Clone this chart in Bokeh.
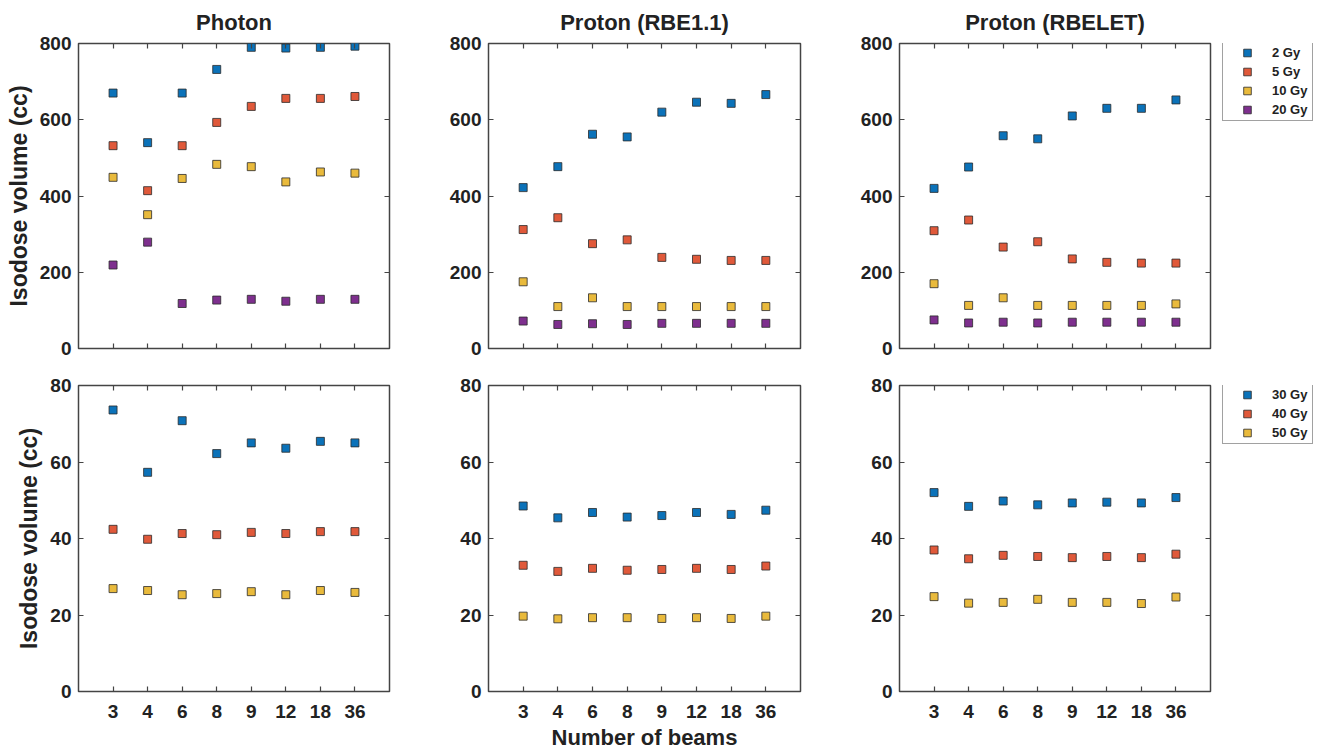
from bokeh.plotting import figure
from bokeh.models import Range1d, FixedTicker, LinearAxis, Legend, LegendItem
from bokeh.layouts import column, row
from bokeh.embed import file_html
from bokeh.resources import INLINE

beams = ["3", "4", "6", "8", "9", "12", "18", "36"]

photon_2 = [670, 540, 670, 732, 790, 788, 790, 793]
photon_5 = [532, 414, 532, 593, 635, 656, 656, 661]
photon_10 = [449, 351, 446, 483, 477, 437, 463, 460]
photon_20 = [219, 279, 118, 127, 129, 124, 129, 129]

rbe_2 = [422, 477, 562, 555, 620, 646, 643, 666]
rbe_5 = [312, 343, 275, 285, 239, 234, 231, 231]
rbe_10 = [175, 110, 133, 110, 110, 110, 110, 110]
rbe_20 = [72, 63, 65, 63, 66, 66, 66, 66]

let_2 = [420, 476, 558, 550, 610, 630, 630, 652]
let_5 = [309, 337, 266, 280, 235, 226, 224, 224]
let_10 = [170, 113, 133, 113, 113, 113, 113, 117]
let_20 = [75, 67, 69, 67, 69, 69, 69, 69]

photon_30 = [73.6, 57.3, 70.8, 62.2, 65.0, 63.6, 65.4, 65.0]
photon_40 = [42.4, 39.8, 41.3, 41.0, 41.6, 41.3, 41.8, 41.8]
photon_50 = [26.9, 26.4, 25.3, 25.6, 26.1, 25.3, 26.4, 25.9]

rbe_30 = [48.5, 45.4, 46.8, 45.6, 46.0, 46.8, 46.3, 47.4]
rbe_40 = [33.0, 31.4, 32.2, 31.7, 31.9, 32.2, 31.9, 32.8]
rbe_50 = [19.7, 19.0, 19.3, 19.3, 19.1, 19.3, 19.1, 19.7]

let_30 = [52.0, 48.4, 49.8, 48.8, 49.3, 49.5, 49.3, 50.7]
let_40 = [37.0, 34.7, 35.6, 35.3, 35.0, 35.3, 35.0, 35.9]
let_50 = [24.8, 23.1, 23.3, 24.1, 23.3, 23.3, 23.0, 24.7]

top_labels = ["2 Gy", "5 Gy", "10 Gy", "20 Gy"]
bottom_labels = ["30 Gy", "40 Gy", "50 Gy"]
titles = ["Photon", "Proton (RBE1.1)", "Proton (RBELET)"]
top_yticks = [0, 200, 400, 600, 800]
bottom_yticks = [0, 20, 40, 60, 80]

colors = ["#0B72B9", "#E0593A", "#E9BA3C", "#7E2F8E"]
FONT = "Liberation Sans"
DARK = "#444444"
EDGE = "#2a2a2a"

xs = [i + 1 for i in range(len(beams))]


def style_axis(ax, ticks, labels=None, size="19px", standoff=7):
    ax.ticker = FixedTicker(ticks=ticks)
    ax.minor_tick_line_color = None
    ax.major_tick_in = 5
    ax.major_tick_out = 0
    ax.major_tick_line_color = DARK
    ax.major_tick_line_width = 1.2
    ax.axis_line_color = None
    ax.major_label_standoff = standoff
    ax.major_label_text_font = FONT
    ax.major_label_text_font_style = "bold"
    ax.major_label_text_font_size = size
    ax.major_label_text_color = "#222222"
    ax.axis_label_text_font = FONT
    ax.axis_label_text_font_style = "bold"
    ax.axis_label_text_color = "#222222"
    if labels is not None:
        ax.major_label_overrides = {t: l for t, l in zip(ticks, labels)}


def make_fig(width, left, right, top, bottom, height, ymax, yticks, series,
             title=None, xlabels=False, xlabel=None, ylabel=None):
    p = figure(width=width, height=height, x_range=Range1d(0, 9), y_range=Range1d(0, ymax),
               output_backend="svg", toolbar_location=None,
               min_border_left=left, min_border_right=right,
               min_border_top=top, min_border_bottom=bottom)
    p.grid.visible = False
    p.outline_line_color = DARK
    p.outline_line_width = 1.5
    p.background_fill_color = "white"
    p.border_fill_color = "white"

    xa = p.xaxis[0]
    style_axis(xa, xs, beams if xlabels else [""] * len(xs), standoff=13)
    if xlabel:
        xa.axis_label = xlabel
        xa.axis_label_text_font_size = "22px"
        xa.axis_label_standoff = 4
    ya = p.yaxis[0]
    style_axis(ya, yticks, [str(v) for v in yticks], standoff=7)
    if ylabel:
        ya.axis_label = ylabel
        ya.axis_label_text_font_size = "23px"
        ya.axis_label_standoff = 5

    above = LinearAxis()
    style_axis(above, xs, [""] * len(xs), size="8px", standoff=0)
    if title:
        above.axis_label = title
        above.axis_label_text_font_size = "22px"
        above.axis_label_standoff = 9
    p.add_layout(above, "above")
    rax = LinearAxis()
    style_axis(rax, yticks, [""] * len(yticks), size="8px", standoff=0)
    p.add_layout(rax, "right")

    for vals, c in zip(series, colors):
        p.scatter(x=xs, y=vals, marker="square", size=8, fill_color=c,
                  line_color=EDGE, line_width=0.8)
    return p


def make_legend_fig(width, height, top, bottom, labels, series, loc):
    # the legend's renderers hold the panel's data but lie outside this
    # narrow strip's visible x range, so only the legend itself shows
    p = figure(width=width, height=height, x_range=Range1d(100, 101), y_range=Range1d(0, 1),
               output_backend="svg", toolbar_location=None,
               x_axis_type=None, y_axis_type=None,
               min_border_left=0, min_border_right=0,
               min_border_top=top, min_border_bottom=bottom)
    p.grid.visible = False
    p.outline_line_color = None
    p.background_fill_color = "white"
    p.border_fill_color = "white"
    rends = []
    for vals, c in zip(series, colors):
        rends.append(p.scatter(x=xs, y=vals, marker="square", size=8, fill_color=c,
                               line_color=EDGE, line_width=0.8))
    items = [LegendItem(label=l, renderers=[r]) for l, r in zip(labels, rends)]
    lg = Legend(items=items, location=loc, margin=0, padding=1, spacing=0,
                glyph_width=46, glyph_height=19, label_height=19, label_width=39,
                label_standoff=2, label_text_font=FONT, label_text_font_style="bold",
                label_text_font_size="13px", label_text_color="#222222",
                border_line_color=DARK, border_line_width=1.5,
                background_fill_color="white", background_fill_alpha=1.0)
    p.add_layout(lg)
    return p


TOP_H = 366
BOT_H = 389
widths = [440, 410, 362]
lefts = [78, 48, 49]
rights = [51, 50, 2]
LEG_W = 1322 - sum(widths)

top_series = [[photon_2, photon_5, photon_10, photon_20],
              [rbe_2, rbe_5, rbe_10, rbe_20],
              [let_2, let_5, let_10, let_20]]
bot_series = [[photon_30, photon_40, photon_50],
              [rbe_30, rbe_40, rbe_50],
              [let_30, let_40, let_50]]

top_figs = []
bot_figs = []
for i in range(3):
    top_figs.append(make_fig(widths[i], lefts[i], rights[i], 43, 18, TOP_H, 800, top_yticks,
                             top_series[i], title=titles[i],
                             ylabel="Isodose volume (cc)" if i == 0 else None))
    bot_figs.append(make_fig(widths[i], lefts[i], rights[i], 19, 64, BOT_H, 80, bottom_yticks,
                             bot_series[i], xlabels=True,
                             xlabel="Number of beams" if i == 1 else None,
                             ylabel="Isodose volume (cc)" if i == 0 else None))

top_figs.append(make_legend_fig(LEG_W, TOP_H, 43, 18, top_labels, top_series[2], (10, 227)))
bot_figs.append(make_legend_fig(LEG_W, BOT_H, 19, 64, bottom_labels, bot_series[2], (10, 247)))

layout = column(row(*top_figs, spacing=0), row(*bot_figs, spacing=0), spacing=0)
open("out.html", "w").write(file_html(layout, INLINE))
